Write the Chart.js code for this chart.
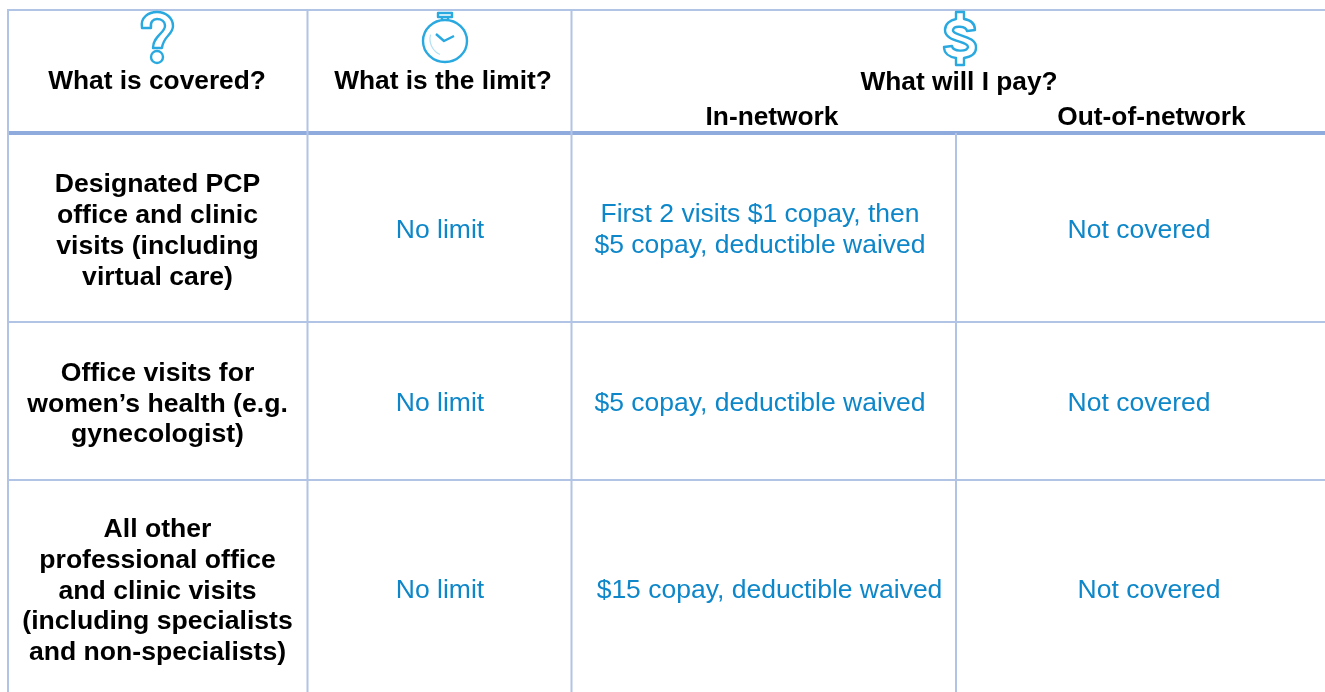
<!DOCTYPE html>
<html><head><meta charset="utf-8">
<style>html,body{margin:0;padding:0;background:#fff}canvas{display:block}</style>
<script src="https://cdn.jsdelivr.net/npm/chart.js@4/dist/chart.umd.min.js"></script>
</head><body><canvas id="c" width="1325" height="692"></canvas>
<script>
const headers = ["What is covered?", "What is the limit?", "What will I pay?"];
const subHeaders = ["In-network", "Out-of-network"];
const categories = [
  ["Designated PCP", "office and clinic", "visits (including", "virtual care)"],
  ["Office visits for", "women\u2019s health (e.g.", "gynecologist)"],
  ["All other", "professional office", "and clinic visits", "(including specialists", "and non-specialists)"]
];
const limits = ["No limit", "No limit", "No limit"];
const inNetwork = [
  ["First 2 visits $1 copay, then", "$5 copay, deductible waived"],
  ["$5 copay, deductible waived"],
  ["$15 copay, deductible waived"]
];
const outOfNetwork = ["Not covered", "Not covered", "Not covered"];

// Layout of the table, in pixels of the page
const colEdges = [8, 307.5, 571.5, 956];
const rowEdges = [10, 133, 322, 480, 692];
const rowBase = [237.5, 411, 598];
const catBase = [238.5, 411.5, 598.5];
const lineGap = 30.9;
const inX = [760, 760, 769.5], outX = [1139, 1139, 1149];
const W = 1325, H = 692;
const BLUE = "#0d87c9", RULE = "#b1c4e5", THICK = "#8faadc", ICON = "#29a9e0";
const FONT = '"Liberation Sans", Arial, sans-serif';

const seg = (x1, y1, x2, y2, color, width) => ({
  data: [{x: x1, y: y1}, {x: x2, y: y2}], borderColor: color, borderWidth: width,
  pointRadius: 0, showLine: true, fill: false, tension: 0, borderCapStyle: "butt"
});
const datasets = [
  seg(colEdges[0] - 1, rowEdges[0], W, rowEdges[0], RULE, 2),
  seg(colEdges[0], rowEdges[0], colEdges[0], H, RULE, 2),
  seg(colEdges[1], rowEdges[0], colEdges[1], H, RULE, 2),
  seg(colEdges[2], rowEdges[0], colEdges[2], H, RULE, 2),
  seg(colEdges[3], rowEdges[1], colEdges[3], H, RULE, 2),
  seg(colEdges[0], rowEdges[2], W, rowEdges[2], RULE, 2),
  seg(colEdges[0], rowEdges[3], W, rowEdges[3], RULE, 2),
  seg(colEdges[0] + 1, rowEdges[1], W, rowEdges[1], THICK, 4)
];

function questionIcon(c) {
  c.beginPath(); c.moveTo(142, 28); c.bezierCurveTo(140, 17, 149, 12, 157, 12);
  c.bezierCurveTo(166, 12, 173, 18, 173, 26); c.bezierCurveTo(173, 35, 163, 36, 162, 48);
  c.lineTo(153, 48); c.bezierCurveTo(153, 36, 165, 33, 165, 26);
  c.bezierCurveTo(165, 21, 161, 19, 157, 19); c.bezierCurveTo(153, 19, 150, 22, 151, 28);
  c.closePath(); c.stroke();
  c.beginPath(); c.arc(157, 57, 6, 0, Math.PI * 2); c.stroke();
}
function watchIcon(c) {
  c.beginPath(); c.ellipse(445, 41, 22, 21, 0, 0, Math.PI * 2); c.stroke();
  c.strokeRect(438, 13, 14, 4);
  c.beginPath(); c.moveTo(442, 17); c.lineTo(442, 20); c.moveTo(448, 17); c.lineTo(448, 20); c.stroke();
  c.beginPath(); c.moveTo(436, 34); c.lineTo(444, 41); c.lineTo(454, 36); c.stroke();
  c.save(); c.globalAlpha = 0.35; c.lineWidth = 1.2;
  c.beginPath(); c.arc(447, 39, 17, 2.0, 3.4); c.stroke(); c.restore();
}
function dollarIcon(c) {
  c.beginPath();
  c.moveTo(956, 12); c.lineTo(964, 12); c.lineTo(964, 19);
  c.bezierCurveTo(971, 20, 975, 24, 975, 30); c.lineTo(967, 31);
  c.bezierCurveTo(966, 26, 954, 25, 953, 30); c.bezierCurveTo(952, 36, 977, 35, 976, 48);
  c.bezierCurveTo(976, 54, 970, 57, 964, 58); c.lineTo(964, 65); c.lineTo(956, 65); c.lineTo(956, 58);
  c.bezierCurveTo(949, 57, 944, 53, 944, 47); c.lineTo(952, 46);
  c.bezierCurveTo(953, 52, 967, 52, 968, 47); c.bezierCurveTo(968, 41, 945, 42, 945, 30);
  c.bezierCurveTo(945, 24, 950, 20, 956, 19);
  c.closePath(); c.stroke();
}

const tablePlugin = {
  id: "tableText",
  afterDatasetsDraw(chart) {
    const c = chart.ctx, xs = chart.scales.x, ys = chart.scales.y;
    const put = (t, x, y) => c.fillText(t, xs.getPixelForValue(x), ys.getPixelForValue(y));
    c.save();
    c.textAlign = "center"; c.textBaseline = "alphabetic";
    c.fillStyle = "#000"; c.font = "bold 26.3px " + FONT;
    put(headers[0], 157, 89); put(headers[1], 443, 89); put(headers[2], 959, 90);
    put(subHeaders[0], 772, 125); put(subHeaders[1], 1151.5, 125);
    c.font = "bold 26.6px " + FONT;
    categories.forEach((lines, r) => lines.forEach((t, i) =>
      put(t, 157.5, catBase[r] + (i - (lines.length - 1) / 2) * lineGap)));
    c.fillStyle = BLUE; c.font = "26.5px " + FONT;
    limits.forEach((t, r) => put(t, 440, rowBase[r]));
    inNetwork.forEach((lines, r) => lines.forEach((t, i) =>
      put(t, inX[r], rowBase[r] + (i - (lines.length - 1) / 2) * lineGap)));
    outOfNetwork.forEach((t, r) => put(t, outX[r], rowBase[r]));
    c.strokeStyle = ICON; c.lineWidth = 2.4; c.lineJoin = "round";
    questionIcon(c); watchIcon(c); dollarIcon(c);
    c.restore();
  }
};

new Chart(document.getElementById("c"), {
  type: "scatter",
  data: {datasets},
  plugins: [tablePlugin],
  options: {
    responsive: false, animation: false,
    layout: {padding: 0},
    plugins: {legend: {display: false}, tooltip: {enabled: false}, title: {display: false}},
    scales: {
      x: {type: "linear", min: 0, max: W, display: false},
      y: {type: "linear", min: 0, max: H, reverse: true, display: false}
    }
  }
});
</script></body></html>
